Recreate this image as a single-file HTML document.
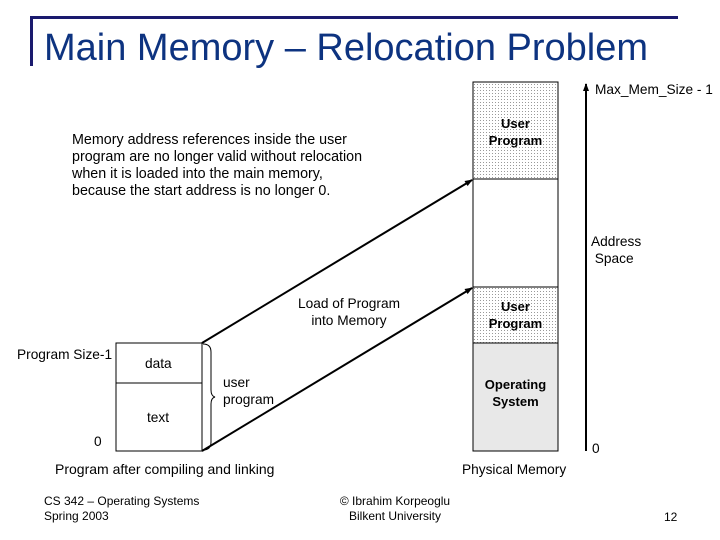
<!DOCTYPE html>
<html><head><style>
body{margin:0;width:720px;height:540px;background:#fff;position:relative;font-family:"Liberation Sans",sans-serif;overflow:hidden}
.t{position:absolute;font-size:13.7px;color:#000;line-height:17px;white-space:nowrap}
.c{text-align:center}
</style></head><body>
<div style="position:absolute;left:30px;top:16px;width:648px;height:3px;background:#1a1a6e"></div>
<div style="position:absolute;left:30px;top:16px;width:3px;height:50px;background:#1a1a6e"></div>
<div class="t" style="left:44px;top:25px;font-size:38px;line-height:46px;color:#0d3380">Main Memory – Relocation Problem</div>
<svg width="720" height="540" style="position:absolute;left:0;top:0">
<defs>
<pattern id="d" width="3" height="3" patternUnits="userSpaceOnUse"><rect width="3" height="3" fill="#fff"/><rect width="1" height="1" fill="#999"/></pattern>
<marker id="a" markerWidth="8" markerHeight="8" refX="7" refY="4" orient="auto" markerUnits="userSpaceOnUse"><path d="M0,1 L8,4 L0,7z" fill="#000"/></marker>
</defs>
<rect x="473" y="82" width="85" height="97" fill="url(#d)" stroke="#000"/>
<rect x="473" y="179" width="85" height="108" fill="#fff" stroke="#000"/>
<rect x="473" y="287" width="85" height="56" fill="url(#d)" stroke="#000"/>
<rect x="473" y="343" width="85" height="108" fill="#e8e8e8" stroke="#000"/>
<line x1="586" y1="451" x2="586" y2="84" stroke="#000" stroke-width="2" marker-end="url(#a)"/>
<rect x="116" y="343" width="86" height="108" fill="#fff" stroke="#000"/>
<line x1="116" y1="383" x2="202" y2="383" stroke="#000"/>
<line x1="202" y1="343" x2="472" y2="180" stroke="#000" stroke-width="2" marker-end="url(#a)"/>
<line x1="202" y1="451" x2="472" y2="288" stroke="#000" stroke-width="2" marker-end="url(#a)"/>
<path d="M203,344 Q211,344 211,352 L211,390 Q211,396 215,397 Q211,398 211,404 L211,442 Q211,450 203,450" fill="none" stroke="#000"/>
</svg>
<div class="t" style="left:595px;top:81px">Max_Mem_Size - 1</div>
<div class="t c" style="left:473px;top:115px;width:85px;font-weight:bold;font-size:13px">User<br>Program</div>
<div class="t c" style="left:473px;top:298px;width:85px;font-weight:bold;font-size:13px">User<br>Program</div>
<div class="t c" style="left:473px;top:376px;width:85px;font-weight:bold;font-size:13px">Operating<br>System</div>
<div class="t" style="left:591px;top:233px">Address<br>&nbsp;Space</div>
<div class="t" style="left:592px;top:440px">0</div>
<div class="t" style="left:462px;top:461px">Physical Memory</div>
<div class="t" style="left:72px;top:132px;font-size:14.3px">Memory address references inside the user<br>program are no longer valid without relocation<br>when it is loaded into the main memory,<br>because the start address is no longer 0.</div>
<div class="t c" style="left:288px;top:295px;width:122px">Load of Program<br>into Memory</div>
<div class="t" style="left:17px;top:346px">Program Size-1</div>
<div class="t" style="left:145px;top:355px">data</div>
<div class="t" style="left:147px;top:409px">text</div>
<div class="t" style="left:94px;top:433px">0</div>
<div class="t" style="left:223px;top:374px">user<br>program</div>
<div class="t" style="left:55px;top:461px;font-size:14px">Program after compiling and linking</div>
<div class="t" style="left:44px;top:494px;font-size:12px;line-height:15px">CS 342 – Operating Systems<br>Spring 2003</div>
<div class="t c" style="left:320px;top:494px;width:150px;font-size:12px;line-height:15px">© Ibrahim Korpeoglu<br>Bilkent University</div>
<div class="t" style="left:664px;top:509px;font-size:12px">12</div>
</body></html>
